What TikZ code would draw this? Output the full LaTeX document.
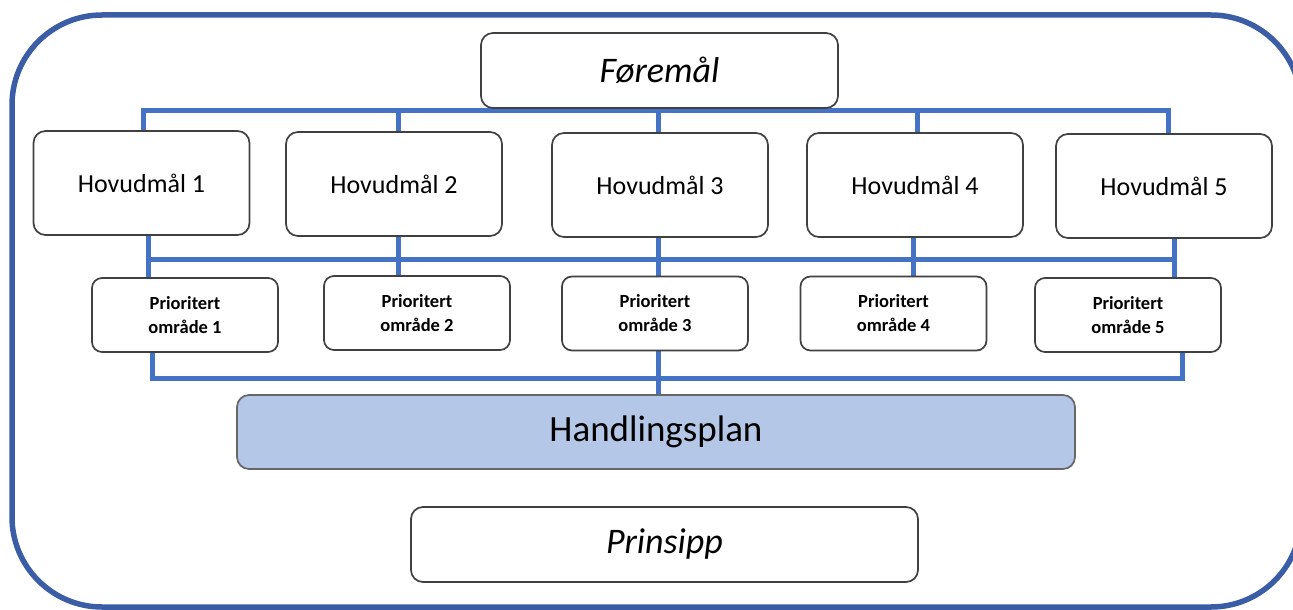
\documentclass[tikz,border=0pt]{standalone}
\usepackage{fontspec}
\setmainfont{Carlito}
\usetikzlibrary{backgrounds}
\definecolor{framecol}{HTML}{3A5DA5}
\definecolor{conncol}{HTML}{4472C4}
\definecolor{boxline}{HTML}{404040}
\definecolor{planfill}{HTML}{B4C7E7}
\tikzset{
  box/.style={draw=boxline, line width=1.7pt, fill=white, rounded corners=12pt, inner sep=0pt, align=center},
  topbox/.style={box, minimum width=357pt, minimum height=75pt, font=\fontsize{36}{40}\selectfont\itshape},
  hovud/.style={box, minimum width=216pt, minimum height=104pt, font=\fontsize{26}{30}\selectfont},
  prio/.style={box, rounded corners=10pt, minimum width=186pt, minimum height=74pt, font=\fontsize{18.5}{24}\selectfont\bfseries},
  plan/.style={box, fill=planfill, draw=gray!80!black, minimum width=838pt, minimum height=74pt, font=\fontsize{37}{40}\selectfont},
  conn/.style={draw=conncol, line width=5pt},
  frame/.style={draw=framecol, line width=5.5pt, rounded corners=90pt}
}
\begin{document}
\begin{tikzpicture}[x=1pt, y=-1pt]
\useasboundingbox (0,0) rectangle (1293,610);
\clip (0,0) rectangle (1293,610);
\draw[frame] (12,15) rectangle (1301,607);

% nodes
\node[topbox] (F) at (659.5,70.5) {Føremål};
\node[hovud] (H1) at (141.5,183) {Hovudmål 1};
\node[hovud] (H2) at (394,184) {Hovudmål 2};
\node[hovud] (H3) at (660,185) {Hovudmål 3};
\node[hovud] (H4) at (915,185) {Hovudmål 4};
\node[hovud] (H5) at (1164,186) {Hovudmål 5};
\node[prio] (P1) at (185,315) {Prioritert\\område 1};
\node[prio] (P2) at (417,313) {Prioritert\\område 2};
\node[prio] (P3) at (655,313.5) {Prioritert\\område 3};
\node[prio] (P4) at (893.5,313.5) {Prioritert\\område 4};
\node[prio] (P5) at (1128,315) {Prioritert\\område 5};
\node[plan] (HP) at (656,432) {Handlingsplan};
\node[box, minimum width=507pt, minimum height=75pt, font=\fontsize{36}{40}\selectfont\itshape] (PR) at (664.5,544.5) {Prinsipp};

% bus levels
\coordinate (b1) at (0,110);
\coordinate (b2) at (0,259);
\coordinate (b3) at (0,378);

\coordinate (ht1) at ([xshift=1.5pt]H1.north);
\coordinate (ht2) at ([xshift=4pt]H2.north);
\coordinate (ht3) at ([xshift=-2pt]H3.north);
\coordinate (ht4) at ([xshift=2pt]H4.north);
\coordinate (ht5) at ([xshift=4pt]H5.north);
\coordinate (hb1) at ([xshift=6.5pt]H1.south);
\coordinate (hb2) at ([xshift=4pt]H2.south);
\coordinate (hb3) at ([xshift=-2pt]H3.south);
\coordinate (hb4) at ([xshift=-2pt]H4.south);
\coordinate (hb5) at ([xshift=10pt]H5.south);
\coordinate (pb1) at ([xshift=-33pt]P1.south);
\coordinate (pb3) at ([xshift=3pt]P3.south);
\coordinate (pb5) at ([xshift=54pt]P5.south);

\begin{pgfonlayer}{background}
% top connectors
\draw[conn] (ht1) -- (ht1 |- b1) -- (ht5 |- b1) -- (ht5);
\draw[conn] (ht2) -- (ht2 |- b1);
\draw[conn] (ht3) -- (ht3 |- F.south);
\draw[conn] (ht4) -- (ht4 |- b1);
% middle connectors
\foreach \n in {1,...,5} {\draw[conn] (hb\n) -- (hb\n |- P\n.north);}
\draw[conn] ([xshift=-2.5pt]hb1 |- b2) -- ([xshift=2.5pt]hb5 |- b2);
% bottom connectors
\draw[conn] (pb1) -- (pb1 |- b3) -- (pb5 |- b3) -- (pb5);
\draw[conn] (pb3) -- (pb3 |- HP.north);
\end{pgfonlayer}
\end{tikzpicture}
\end{document}
